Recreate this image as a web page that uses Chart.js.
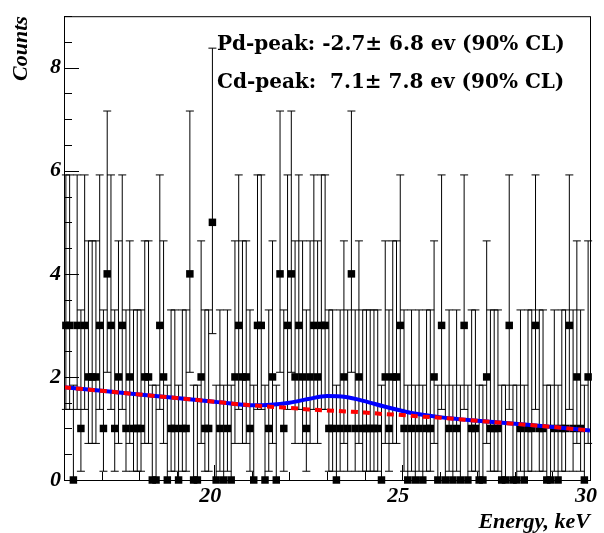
<!DOCTYPE html>
<html>
<head>
<meta charset="utf-8">
<script src="https://cdn.jsdelivr.net/npm/chart.js@4.4.1/dist/chart.umd.min.js"></script>
<style>
  html, body { margin: 0; padding: 0; background: #fff; }
  #wrap { width: 604px; height: 533px; }
</style>
</head>
<body>
<div id="wrap"><canvas id="spectrum" width="604" height="533"></canvas></div>
<script>
/* ---------- data ---------- */
// counts in 0.1 keV bins starting at 16.0 keV
const binStart = 16.0;
const binWidth = 0.1;
const counts = [
  3, 3, 0, 3, 1, 3, 2, 2, 2, 3,
  1, 4, 3, 1, 2, 3, 1, 2, 1, 1,
  1, 2, 2, 0, 0, 3, 2, 0, 1, 1,
  0, 1, 1, 4, 0, 0, 2, 1, 1, 5,
  0, 1, 0, 1, 0, 2, 3, 2, 2, 1,
  0, 3, 3, 0, 1, 2, 0, 4, 1, 3,
  4, 2, 3, 2, 1, 2, 3, 2, 3, 3,
  1, 1, 0, 1, 2, 1, 4, 1, 2, 1,
  1, 1, 1, 1, 0, 2, 1, 2, 2, 3,
  1, 0, 1, 0, 1, 0, 1, 1, 2, 0,
  3, 0, 1, 0, 1, 0, 3, 0, 1, 1,
  0, 0, 2, 1, 1, 1, 0, 0, 3, 0,
  0, 1, 0, 1, 1, 3, 1, 1, 0, 0,
  1, 0, 1, 1, 3, 1, 2, 1, 0, 2
];

// 68% Poisson interval edges, indexed by number of counts
const errLow  = [0, 0.17, 0.71, 1.37, 2.09, 2.84];
const errHigh = [1.84, 3.30, 4.64, 5.92, 7.16, 8.38];

// fitted curves (counts per bin)
const curveEnergy = [16, 17, 18, 19, 20, 20.5, 21, 21.5, 22, 22.5, 23, 23.5, 24, 24.5, 25, 25.5, 26, 27, 28, 29, 30];
const bgCurve     = [1.80, 1.73, 1.66, 1.59, 1.52, 1.48, 1.45, 1.42, 1.40, 1.37, 1.35, 1.33, 1.31, 1.28, 1.26, 1.23, 1.21, 1.15, 1.09, 1.03, 0.96];
const fitCurve    = [1.80, 1.73, 1.66, 1.59, 1.52, 1.48, 1.45, 1.46, 1.50, 1.57, 1.63, 1.61, 1.53, 1.43, 1.34, 1.27, 1.22, 1.15, 1.09, 1.03, 0.96];

const xTicks = [20, 25, 30];
const yTicks = [0, 2, 4, 6, 8];
const notes = [
  'Pd-peak: -2.7\u00b1 6.8 ev (90% CL)',
  'Cd-peak:  7.1\u00b1 7.8 ev (90% CL)'
];

/* ---------- helpers ---------- */
const axisFont = { family: "'Liberation Serif', serif", size: 22, style: 'italic', weight: 'bold' };
const noteFont = "bold 20px 'DejaVu Serif', serif";

const points = counts.map((n, i) => ({ x: binStart + (i + 0.5) * binWidth, y: n }));
const toXY = (ys) => curveEnergy.map((x, i) => ({ x, y: ys[i] }));

// vertical error bars with end caps, under the markers
const errorBars = {
  id: 'errorBars',
  beforeDatasetsDraw(chart) {
    const { ctx, scales: { x, y } } = chart;
    ctx.save();
    ctx.strokeStyle = '#000';
    ctx.lineWidth = 1;
    points.forEach(p => {
      const px = x.getPixelForValue(p.x);
      const lo = y.getPixelForValue(errLow[p.y]);
      const hi = y.getPixelForValue(errHigh[p.y]);
      ctx.beginPath();
      ctx.moveTo(px, lo);
      ctx.lineTo(px, hi);
      ctx.moveTo(px - 4, hi);
      ctx.lineTo(px + 4, hi);
      if (p.y > 0) {
        ctx.moveTo(px - 4, lo);
        ctx.lineTo(px + 4, lo);
      }
      ctx.stroke();
    });
    ctx.restore();
  }
};

// frame and inward tick marks
const frame = {
  id: 'frame',
  afterDatasetsDraw(chart) {
    const { ctx, chartArea: a, scales: { x, y } } = chart;
    ctx.save();
    ctx.strokeStyle = '#000';
    ctx.lineWidth = 1;
    ctx.strokeRect(a.left + 0.5, a.top + 0.5, a.right - a.left, a.bottom - a.top);
    ctx.beginPath();
    for (let v = 0; v <= 9; v += 0.5) {
      const py = Math.round(y.getPixelForValue(v)) + 0.5;
      const len = v % 2 === 0 ? 15 : 8;
      ctx.moveTo(a.left, py);
      ctx.lineTo(a.left + len, py);
    }
    for (let v = 16; v <= 30; v += 1) {
      const px = Math.round(x.getPixelForValue(v)) + 0.5;
      const len = v % 5 === 0 ? 15 : 8;
      ctx.moveTo(px, a.bottom);
      ctx.lineTo(px, a.bottom - len);
    }
    ctx.stroke();
    ctx.restore();
  }
};

// peak results written in the upper part of the frame
const peakNotes = {
  id: 'peakNotes',
  afterDraw(chart) {
    const { ctx } = chart;
    ctx.save();
    ctx.fillStyle = '#000';
    ctx.font = noteFont;
    ctx.textBaseline = 'alphabetic';
    ctx.fillText(notes[0], 217, 50);
    ctx.fillText(notes[1], 217, 88);
    ctx.restore();
  }
};

/* ---------- chart ---------- */
new Chart(document.getElementById('spectrum'), {
  type: 'scatter',
  data: {
    datasets: [
      {
        label: 'background',
        type: 'line',
        data: toXY(bgCurve),
        borderColor: '#ff0000',
        borderWidth: 4,
        borderDash: [7, 5],
        pointRadius: 0,
        cubicInterpolationMode: 'monotone',
        fill: false
      },
      {
        label: 'fit',
        type: 'line',
        data: toXY(fitCurve),
        borderColor: '#0000ff',
        borderWidth: 4,
        pointRadius: 0,
        cubicInterpolationMode: 'monotone',
        fill: false
      },
      {
        label: 'counts',
        data: points,
        pointStyle: 'rect',
        pointRadius: 5.3,
        pointBackgroundColor: '#000',
        pointBorderWidth: 0,
        clip: false
      }
    ]
  },
  options: {
    responsive: false,
    animation: false,
    events: [],
    layout: { padding: { top: 12, right: 12, left: 0, bottom: 0 } },
    plugins: { legend: { display: false }, tooltip: { enabled: false } },
    scales: {
      x: {
        type: 'linear',
        min: 16,
        max: 30,
        afterBuildTicks: s => { s.ticks = xTicks.map(v => ({ value: v })); },
        afterFit: s => { s.height = 53; },
        grid: { display: false, drawTicks: false },
        border: { display: false },
        ticks: { font: axisFont, color: '#000', padding: 3, labelOffset: -4, maxRotation: 0 },
        title: { display: true, text: 'Energy, keV', align: 'end', font: axisFont, color: '#000', padding: { top: 0, bottom: -3 } }
      },
      y: {
        min: 0,
        max: 9,
        afterBuildTicks: s => { s.ticks = yTicks.map(v => ({ value: v })); },
        afterFit: s => { s.width = 64; },
        grid: { display: false, drawTicks: false },
        border: { display: false },
        ticks: { font: axisFont, color: '#000', padding: 3 },
        title: { display: true, text: 'Counts', align: 'end', font: axisFont, color: '#000', padding: { top: 8, bottom: 0 } }
      }
    }
  },
  plugins: [errorBars, frame, peakNotes]
});
</script>
</body>
</html>
